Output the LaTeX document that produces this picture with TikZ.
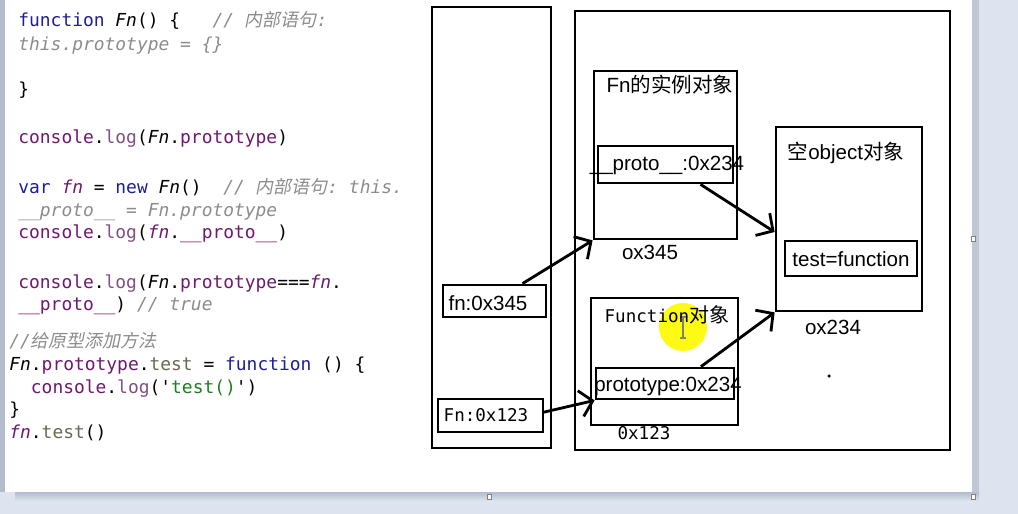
\documentclass[tikz,border=0pt]{standalone}
\usepackage{fontspec}
\setmainfont{Liberation Sans}
\setmonofont{DejaVu Sans Mono}
\newfontfamily\cjk{Noto Sans CJK SC}
\newfontfamily\cjkit[FakeSlant=0.2]{Noto Sans CJK SC}
\usetikzlibrary{arrows.meta,positioning,calc}

\definecolor{kwblue}{RGB}{30,30,150}
\definecolor{purp}{RGB}{110,25,110}
\definecolor{logc}{RGB}{130,80,130}
\definecolor{cmtgray}{RGB}{140,140,140}
\definecolor{strgreen}{RGB}{30,125,30}
\definecolor{mthc}{RGB}{105,105,80}
\definecolor{screen}{RGB}{221,228,239}
\definecolor{edge}{RGB}{178,188,204}
\definecolor{hilite}{RGB}{255,250,20}

\newcommand\kwd[1]{\textcolor{kwblue}{#1}}
\newcommand\prp[1]{\textcolor{purp}{#1}}
\newcommand\lgc[1]{\textcolor{logc}{#1}}
\newcommand\cmt[1]{\textcolor{cmtgray}{\itshape #1}}
\newcommand\fnv{\textcolor{purp}{\itshape fn}}
\newcommand\Fnc{{\itshape Fn}}
\newcommand\mth[1]{\textcolor{mthc}{#1}}
\newcommand\strg[1]{\textcolor{strgreen}{#1}}

\begin{document}
\begin{tikzpicture}[
  x=0.02cm, y=-0.02cm,
  code/.style={anchor=base west, inner sep=0, font=\ttfamily\fontsize{10.2}{12}\selectfont},
  box/.style={draw, line width=1.6pt, inner sep=0},
  lbl/.style={inner sep=0, font=\fontsize{11.7}{14}\selectfont},
  mlbl/.style={inner sep=0, font=\ttfamily\fontsize{10}{12}\selectfont},
  arr/.style={line width=1.6pt, -{Straight Barb[length=7pt,width=15pt]}},
  handle/.style={draw=gray, fill=white, line width=0.5pt}
]
\useasboundingbox (0,0) rectangle (1018,514);
% screen around the page
\fill[screen] (0,0) rectangle (1018,514);
\fill[edge!70!screen] (972,0) rectangle (979,500);
\shade[top color=edge, bottom color=screen] (15,492) rectangle (979,501);
\fill[edge] (0,0) rectangle (5,492);
\fill[white] (5,0) rectangle (972,492);
\draw[handle] (487,494) rectangle (491,499);
\draw[handle] (971,494) rectangle (975,499);
\draw[handle] (971,236) rectangle (975,241);

% code
\node[code] (c1) at (18,26) {\kwd{function} \Fnc() \{~~~\cmt{// {\cjkit 内部语句}:}};
\node[code] (c2) at (18,50) {\cmt{this.prototype = \{\}}};
\node[code] (c3) at (18,95) {\}};
\node[code] (c4) at (18,143) {\prp{console}.\lgc{log}(\Fnc.\prp{prototype})};
\node[code] (c5) at (18,193) {\kwd{var} \fnv{} = \kwd{new} \Fnc()~~\cmt{// {\cjkit 内部语句}: this.}};
\node[code] (c6) at (18,216) {\cmt{\_\_proto\_\_ = Fn.prototype}};
\node[code] (c7) at (18,238) {\prp{console}.\lgc{log}(\fnv.\prp{\_\_proto\_\_})};
\node[code] (c8) at (18,288) {\prp{console}.\lgc{log}(\Fnc.\prp{prototype}===\fnv.};
\node[code] (c9) at (18,310) {\prp{\_\_proto\_\_}) \cmt{// true}};
\node[code] (c10) at (9,347) {\cmt{//{\cjkit 给原型添加方法}}};
\node[code] (c11) at (9,370) {\Fnc.\prp{prototype}.\mth{test} = \kwd{function} () \{};
\node[code] (c12) at (9,393) {~~\prp{console}.\lgc{log}(\textquotesingle\strg{test()}\textquotesingle)};
\node[code] (c13) at (9,415) {\}};
\node[code] (c14) at (9,438) {\fnv.\mth{test}()};

% cursor highlight
\fill[hilite] (683,327) circle[radius=0.48cm];
\draw[gray, line width=0.6pt] (683,317) -- (683,338) (680,317) -- (686,317) (680,338) -- (686,338);
\fill (829,376) circle[radius=0.035cm];

% stack and heap
\node[box, minimum width=2.38cm, minimum height=8.82cm] (stack) at (491.5,227.5) {};
\node[box, minimum width=7.5cm, minimum height=8.78cm] (heap) at (762.5,230.5) {};

\node[box, minimum width=2.06cm, minimum height=0.64cm] (fnvar) at (494.5,301) {};
\node[lbl] (fnvartxt) at (488,303) {fn:0x345};
\node[box, minimum width=2.10cm, minimum height=0.66cm] (Fnvar) at (490.5,415.5) {};
\node[mlbl] (Fnvartxt) at (486,415) {Fn:0x123};

% instance object
\node[box, minimum width=2.86cm, minimum height=3.36cm] (inst) at (665.5,155) {};
\node[lbl] (insttitle) at (670,85) {Fn{\cjk 的实例对象}};
\node[box, minimum width=2.70cm, minimum height=0.74cm] (proto) at (665.5,164.5) {};
\node[lbl] (prototxt) at (667,165) {\_\_proto\_\_:0x234};
\node[lbl] (instaddr) at (650,252) {ox345};

% empty object
\node[box, minimum width=2.92cm, minimum height=3.68cm] (empty) at (849,219) {};
\node[lbl] (emptytitle) at (846,153) {{\cjk 空}object{\cjk 对象}};
\node[box, minimum width=2.64cm, minimum height=0.70cm] (testfn) at (851,258.5) {};
\node[lbl] (testfntxt) at (851,259) {test=function};
\node[lbl] (emptyaddr) at (833,327) {ox234};

% function object
\node[box, minimum width=2.94cm, minimum height=2.54cm] (func) at (664.5,361.5) {};
\node[mlbl] (functitle) at (667,315) {Function{\cjk\fontsize{11.4}{14}\selectfont 对象}};
\node[box, minimum width=2.76cm, minimum height=0.62cm] (protofn) at (665,383.5) {};
\node[lbl] (protofntxt) at (668,386) {prototype:0x234};
\node[mlbl] (funcaddr) at (644,433) {0x123};

% references
\draw[arr] ($(fnvar.north)+(28,0)$) -- (inst.south west);
\draw[arr] ($(proto.south)+(35,0)$) -- ($(empty.west)+(0,13)$);
\draw[arr] ($(Fnvar.east)+(-2,-3)$) -- (protofn.south west);
\draw[arr] ($(protofn.north)+(36,0)$) -- (empty.south west);
\end{tikzpicture}
\end{document}
